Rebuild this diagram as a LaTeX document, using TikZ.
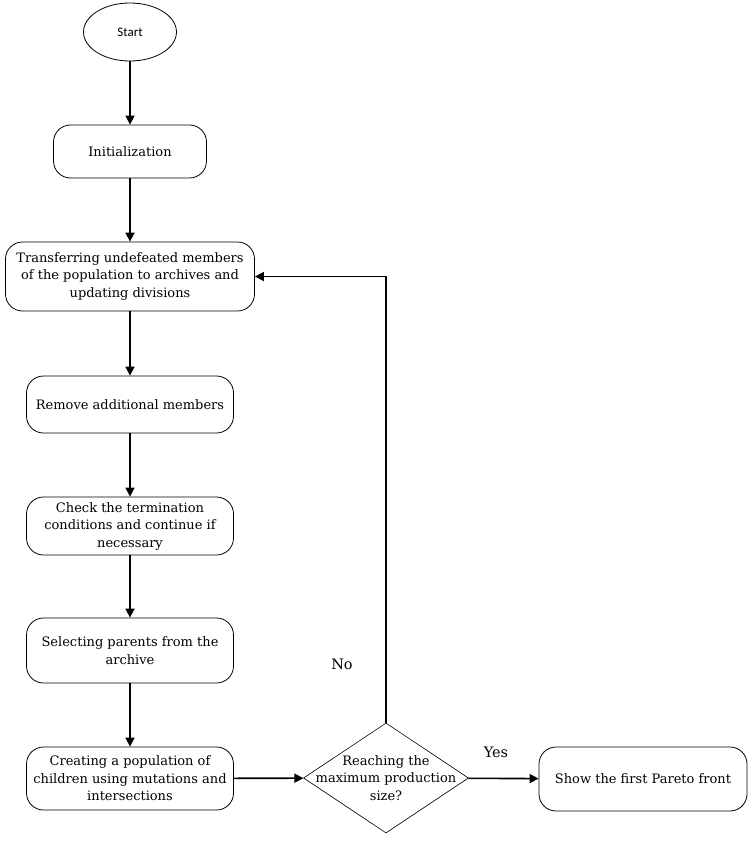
\documentclass[tikz,border=0pt]{standalone}
\usepackage{fontspec}
\setmainfont{DejaVu Serif}
\newfontfamily\startfont{Carlito}
\usetikzlibrary{shapes.geometric,arrows.meta}
\begin{document}
\begin{tikzpicture}[x=1pt,y=-1pt,
  txt/.style={align=center, font=\fontsize{13}{17.5}\selectfont},
  box/.style={txt, draw, rounded corners=17pt, line width=0.8pt, inner sep=2pt},
  flow/.style={line width=1.6pt, -{Triangle[length=9pt,width=9pt]}},
  lbl/.style={font=\fontsize{14.5}{18}\selectfont}]
\useasboundingbox (0,0) rectangle (754,843);
\node[draw, ellipse, line width=0.8pt, minimum width=93pt, minimum height=58pt, inner sep=0pt, font=\startfont\fontsize{13}{15}\selectfont] (start) at (130,32) {Start};
\node[box, minimum width=153pt, minimum height=53pt] (init) at (130,151.5) {Initialization};
\node[box, minimum width=249pt, minimum height=69pt] (trans) at (130,276.5) {Transferring undefeated members\\of the population to archives and\\updating divisions};
\node[box, minimum width=207pt, minimum height=57pt] (remove) at (130,404.5) {Remove additional members};
\node[box, minimum width=207pt, minimum height=58pt] (check) at (130,526) {Check the termination\\conditions and continue if\\necessary};
\node[box, minimum width=207pt, minimum height=65pt] (select) at (130,650.5) {Selecting parents from the\\archive};
\node[box, minimum width=207pt, minimum height=63pt] (create) at (130,778.5) {Creating a population of\\children using mutations and\\intersections};
\node[draw, diamond, line width=0.6pt, minimum width=165pt, minimum height=110pt, inner sep=0pt] (dec) at (386,778) {};
\node[txt] (dectext) at (dec.center) {Reaching the\\maximum production\\size?};
\node[box, minimum width=208pt, minimum height=64pt] (show) at (643,779) {Show the first Pareto front};
\node[lbl] (no) at (342,664) {No};
\node[lbl] (yes) at (496,752) {Yes};
\coordinate (corner) at (386,276.5);
\draw[flow] (start) -- (init);
\draw[flow] (init) -- (trans);
\draw[flow] (trans) -- (remove);
\draw[flow] (remove) -- (check);
\draw[flow] (check) -- (select);
\draw[flow] (select) -- (create);
\draw[flow] (create) -- (dec);
\draw[flow] (dec) -- (show);
\draw[flow] (dec.north) -- (corner) -- (trans.east);
\end{tikzpicture}
\end{document}
